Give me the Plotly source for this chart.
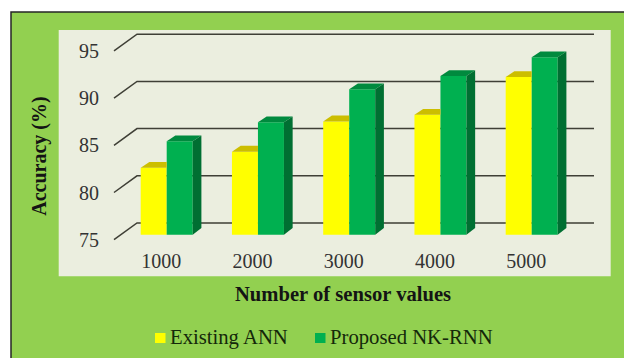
import plotly.graph_objects as go

# Accuracy by number of sensor values
categories = ["1000", "2000", "3000", "4000", "5000"]
existing_ann = [82.1, 83.8, 87.0, 87.7, 91.7]
proposed_nk_rnn = [84.9, 86.9, 90.4, 91.8, 93.8]
tick_values = [75, 80, 85, 90, 95]

W, H = 624, 358
FONT = "Liberation Serif"
YELLOW, GREEN = "#FFFF00", "#00B050"

# Canvas helpers: pixel positions to paper fractions
def px(x):
    return x / W

def py(y):
    return 1 - y / H

# Plot window, in pixels
LEFT, RIGHT, TOP, BOTTOM = 100, 600, 30, 245
UNIT = 91.25        # pixels per category
CENTER0 = 166.7     # pixel centre of the first group
PER_VALUE = 9.44    # pixels per accuracy point

x_range = [(LEFT - CENTER0) / UNIT, (RIGHT - CENTER0) / UNIT]
bar_range = [75 - (BOTTOM - 234.7) / PER_VALUE, 75 + (234.7 - TOP) / PER_VALUE]
label_range = [75 - (BOTTOM - 239.7) / PER_VALUE, 75 + (239.7 - TOP) / PER_VALUE]

# Extrusion of the bars and of the back wall
BAR_W = 26 / UNIT
DEPTH_X = 8.7 / UNIT
DEPTH_Y = 5.8 / PER_VALUE
BASE_Y = 6.7 / PER_VALUE
WALL_X0, WALL_X1, WALL_X2 = (114 - CENTER0) / UNIT, (137 - CENTER0) / UNIT, (594 - CENTER0) / UNIT
WALL_FRONT, WALL_BACK = -5.0 / PER_VALUE, 11.7 / PER_VALUE

idx = list(range(len(categories)))


def poly(xs, ys, color):
    return go.Scatter(x=xs, y=ys, yaxis="y2", mode="lines", fill="toself", fillcolor=color,
                      line=dict(width=0), hoverinfo="skip", showlegend=False)


fig = go.Figure()

# Keeps the labelled value axis alive; the bars use the shifted overlay axis
fig.add_trace(go.Scatter(x=idx[:1], y=tick_values[:1], yaxis="y", mode="markers", opacity=0,
                         hoverinfo="skip", showlegend=False))

# Front faces
fig.add_bar(x=idx, y=[v - 75 for v in existing_ann], base=75, width=BAR_W, offset=-BAR_W,
            yaxis="y2", marker=dict(color=YELLOW, line=dict(width=0)), name="Existing ANN")
fig.add_bar(x=idx, y=[v - 75 for v in proposed_nk_rnn], base=75, width=BAR_W, offset=0,
            yaxis="y2", marker=dict(color=GREEN, line=dict(width=0)), name="Proposed NK-RNN")

# Top and side faces
for i, a, b in zip(idx, existing_ann, proposed_nk_rnn):
    fig.add_trace(poly([i - BAR_W, i - BAR_W + DEPTH_X, i, i],
                       [a, a + DEPTH_Y, a + DEPTH_Y, a], "#CCBE00"))
    fig.add_trace(poly([i, i + DEPTH_X, i + BAR_W + DEPTH_X, i + BAR_W],
                       [b, b + DEPTH_Y, b + DEPTH_Y, b], "#008A3E"))
    fig.add_trace(poly([i + BAR_W, i + BAR_W + DEPTH_X, i + BAR_W + DEPTH_X, i + BAR_W],
                       [b, b + DEPTH_Y, 75 + BASE_Y, 75], "#006F32"))

# Panel backgrounds
shapes = [
    dict(type="rect", xref="paper", yref="paper", x0=px(11), x1=px(640), y0=py(380), y1=py(12),
         fillcolor="#92D050", line=dict(color="#262626", width=1.5), layer="below"),
    dict(type="rect", xref="paper", yref="paper", x0=px(58.7), x1=px(610.7), y0=py(276.3), y1=py(30),
         fillcolor="#EBEEDF", line=dict(width=0), layer="below"),
]
# Wall gridlines with their slanted floor segment
for v in tick_values:
    pts = [(WALL_X0, v + WALL_FRONT), (WALL_X1, v + WALL_BACK), (WALL_X2, v + WALL_BACK)]
    path = "M" + " L".join(f"{x},{y}" for x, y in pts)
    shapes.append(dict(type="path", path=path, xref="x", yref="y2",
                       line=dict(color="#3F3F36", width=1.5), layer="below"))

annotations = [
    dict(text="<b>Number of sensor values</b>", xref="paper", yref="paper", x=px(342.5), y=py(294),
         xanchor="center", yanchor="middle", showarrow=False, font=dict(family=FONT, size=20.6, color="#141414")),
    dict(text="<b>Accuracy (%)</b>", xref="paper", yref="paper", x=px(40), y=py(156.7), textangle=-90,
         xanchor="center", yanchor="middle", showarrow=False, font=dict(family=FONT, size=20, color="#141414")),
]

# Legend row: swatch plus label for each series
legend_row = [("Existing ANN", YELLOW, 155, 170), ("Proposed NK-RNN", GREEN, 315, 330)]
for name, color, swatch_x, text_x in legend_row:
    shapes.append(dict(type="rect", xref="paper", yref="paper", x0=px(swatch_x), x1=px(swatch_x + 10.5),
                       y0=py(343), y1=py(333), fillcolor=color, line=dict(width=0)))
    annotations.append(dict(text=name, xref="paper", yref="paper", x=px(text_x), y=py(337.5),
                            xanchor="left", yanchor="middle", xshift=-2, showarrow=False,
                            font=dict(family=FONT, size=20.7, color="#14280A")))

fig.update_layout(
    width=W, height=H, autosize=False,
    margin=dict(l=0, r=0, t=0, b=0, pad=0, autoexpand=False),
    paper_bgcolor="white", plot_bgcolor="rgba(0,0,0,0)",
    shapes=shapes, annotations=annotations,
    xaxis=dict(domain=[px(LEFT), px(RIGHT)], range=x_range, showgrid=False, zeroline=False, showline=False,
               automargin=False,
               tickmode="array", tickvals=[i - 0.06 for i in idx], ticktext=categories,
               ticks="", ticklabelstandoff=2, tickfont=dict(family=FONT, size=20, color="#333333")),
    yaxis=dict(domain=[py(BOTTOM), py(TOP)], range=label_range, showgrid=False, zeroline=False, showline=False,
               automargin=False,
               tickmode="array", tickvals=tick_values, ticks="", tickfont=dict(family=FONT, size=20, color="#333333")),
    yaxis2=dict(domain=[py(BOTTOM), py(TOP)], range=bar_range, overlaying="y", visible=False),
    showlegend=False,
)

fig.write_html("out.html")
